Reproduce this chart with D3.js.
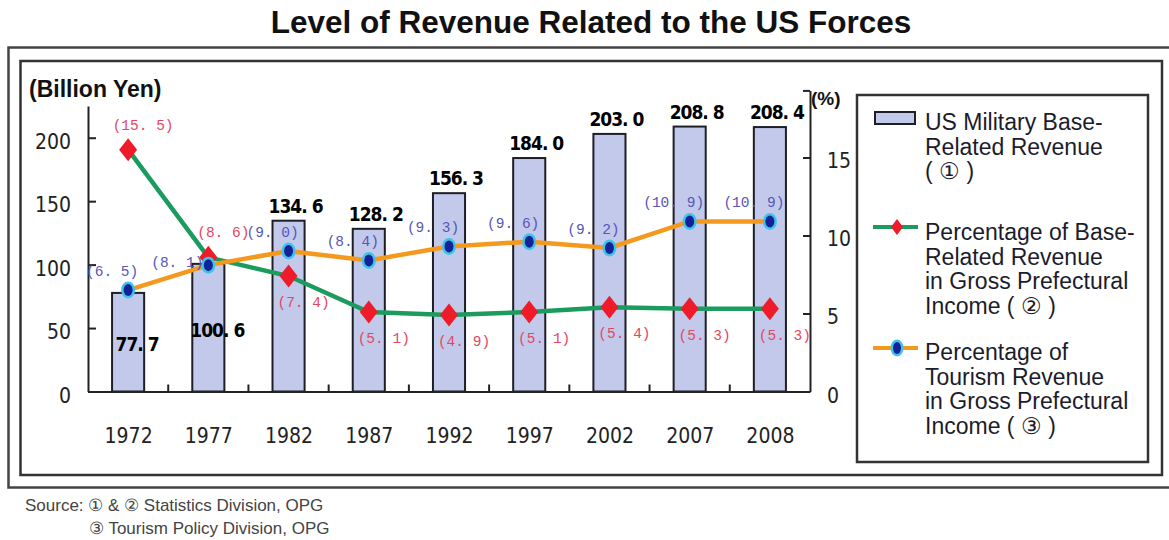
<!DOCTYPE html>
<html>
<head>
<meta charset="utf-8">
<script src="https://cdn.jsdelivr.net/npm/d3@7"></script>
<style>
  html, body { margin: 0; padding: 0; background: #fff; }
  svg { display: block; }
  .tick text { font-family: 'Liberation Sans Narrow', 'DejaVu Sans Condensed', sans-serif; font-size: 21px; fill: #222; }
  .axis path, .axis line { stroke: #222; stroke-width: 2; }
</style>
</head>
<body>
<svg id="chart" width="1169" height="540"></svg>
<script>
// chart values
var years = ['1972', '1977', '1982', '1987', '1992', '1997', '2002', '2007', '2008'];
var baseRevenue = [77.7, 100.6, 134.6, 128.2, 156.3, 184.0, 203.0, 208.8, 208.4];   // billion yen (1)
var basePct = [15.5, 8.6, 7.4, 5.1, 4.9, 5.1, 5.4, 5.3, 5.3];                        // % (2)
var tourismPct = [6.5, 8.1, 9.0, 8.4, 9.3, 9.6, 9.2, 10.9, 10.9];                    // % (3)
var leftTicks = [0, 50, 100, 150, 200];
var rightTicks = [0, 5, 10, 15];
var legendLabels = [
  ['US Military Base-', 'Related Revenue', '( \u2460 )'],
  ['Percentage of Base-', 'Related Revenue', 'in Gross Prefectural', 'Income  ( \u2461 )'],
  ['Percentage of', 'Tourism Revenue', 'in Gross Prefectural', 'Income  ( \u2462 )']
];

var svg = d3.select('#chart');

var plot = { left: 88, right: 810, bottom: 391.5 };

var x = d3.scalePoint().domain(years).range([plot.left, plot.right]).padding(0.5);
var step = x.step();
var barW = step * 0.4;

var yL = d3.scaleLinear().domain([0, 225]).range([plot.bottom, 106]);
var yR = d3.scaleLinear().domain([0, 19.3]).range([plot.bottom, 90.4]);

var sep = function(v) { return d3.format('.1f')(v).replace('.', '. '); };
var sansFont = "'Liberation Sans', Arial, sans-serif";

// title and frames
svg.append('text')
  .attr('x', 591).attr('y', 33)
  .attr('text-anchor', 'middle')
  .style('font-family', sansFont)
  .style('font-weight', 'bold').style('font-size', '31.5px').style('fill', '#111')
  .text('Level of Revenue Related to the US Forces');

svg.append('path')
  .attr('d', 'M1169,47.5H8.5V487.5H1169')
  .attr('fill', 'none').attr('stroke', '#444').attr('stroke-width', 2.5);
svg.append('rect')
  .attr('x', 20.5).attr('y', 61).attr('width', 1141.5).attr('height', 414)
  .attr('fill', 'none').attr('stroke', '#333').attr('stroke-width', 2.5);

// units
svg.append('text')
  .attr('x', 29).attr('y', 97)
  .style('font-family', sansFont)
  .style('font-weight', 'bold').style('font-size', '23px').style('fill', '#111')
  .text('(Billion Yen)');
svg.append('text')
  .attr('x', 811).attr('y', 105)
  .style('font-family', sansFont)
  .style('font-weight', 'bold').style('font-size', '19px').style('fill', '#111')
  .text('(%)');

// bars
svg.append('g').selectAll('rect')
  .data(baseRevenue)
  .join('rect')
  .attr('x', function(d, i) { return x(years[i]) - barW / 2; })
  .attr('y', function(d) { return yL(d); })
  .attr('width', barW)
  .attr('height', function(d) { return yL(0) - yL(d); })
  .attr('fill', '#c3c9ea')
  .attr('stroke', '#1e1e28')
  .attr('stroke-width', 2);

// axes
var axL = svg.append('g')
  .attr('class', 'axis')
  .attr('transform', 'translate(' + plot.left + ',0)')
  .call(d3.axisLeft(yL).tickValues(leftTicks).tickSizeInner(-8).tickSizeOuter(0).tickPadding(17));
axL.selectAll('.tick text').attr('dy', '0.5em');

var axR = svg.append('g')
  .attr('class', 'axis')
  .attr('transform', 'translate(' + plot.right + ',0)')
  .call(d3.axisRight(yR).tickValues(rightTicks.concat([yR.domain()[1]]))
    .tickFormat(function(d) { return rightTicks.indexOf(d) >= 0 ? d : ''; })
    .tickSizeInner(-7).tickSizeOuter(0).tickPadding(17));
axR.selectAll('.tick text').attr('dy', '0.5em');

var axX = svg.append('g')
  .attr('class', 'axis')
  .attr('transform', 'translate(0,' + plot.bottom + ')')
  .call(d3.axisBottom(x).tickSize(0).tickPadding(37));

axX.append('g').selectAll('line')
  .data(years.slice(1))
  .join('line')
  .attr('x1', function(d) { return x(d) - step / 2; })
  .attr('x2', function(d) { return x(d) - step / 2; })
  .attr('y1', 0).attr('y2', -7);

// bar value labels: the two short bars carry theirs inside
svg.append('g').selectAll('text')
  .data(baseRevenue)
  .join('text')
  .attr('x', function(d, i) { return x(years[i]) + (i < 2 ? 9 : 7); })
  .attr('y', function(d, i) { return i < 2 ? (yL(d) + yL(0)) / 2 + 9 : yL(d) - 8; })
  .attr('text-anchor', 'middle')
  .style('font-family', "'Liberation Sans Narrow', 'DejaVu Sans Condensed', sans-serif")
  .style('font-weight', 'bold').style('font-size', '19px').style('letter-spacing', '-1px')
  .style('fill', '#000')
  .text(sep);

// line series
var lineBase = d3.line()
  .x(function(d, i) { return x(years[i]); })
  .y(function(d) { return yR(d); });

var diamondPath = function(w, h) {
  return 'M0,' + (-h) + 'L' + w + ',0L0,' + h + 'L' + (-w) + ',0Z';
};

svg.append('path')
  .datum(basePct)
  .attr('d', lineBase)
  .attr('fill', 'none').attr('stroke', '#1b9b5e').attr('stroke-width', 4.5);

svg.append('g').selectAll('path')
  .data(basePct)
  .join('path')
  .attr('d', diamondPath(9, 11.5))
  .attr('transform', function(d, i) { return 'translate(' + x(years[i]) + ',' + yR(d) + ')'; })
  .attr('fill', '#ee1b2a');

svg.append('path')
  .datum(tourismPct)
  .attr('d', lineBase)
  .attr('fill', 'none').attr('stroke', '#f39a1e').attr('stroke-width', 4.5);

var dots = svg.append('g').selectAll('g')
  .data(tourismPct)
  .join('g')
  .attr('transform', function(d, i) { return 'translate(' + x(years[i]) + ',' + yR(d) + ')'; });
dots.append('ellipse').attr('rx', 7).attr('ry', 8.5).attr('fill', '#3fc3e6');
dots.append('ellipse').attr('rx', 4.5).attr('ry', 6).attr('fill', '#14229a');

// point labels
var monoFont = "'Liberation Mono', 'DejaVu Sans Mono', monospace";
svg.append('g').selectAll('text')
  .data(basePct)
  .join('text')
  .attr('x', function(d, i) { return x(years[i]) + 15; })
  .attr('y', function(d, i) { return yR(d) + (i < 2 ? -20 : 31); })
  .attr('text-anchor', 'middle')
  .style('font-family', monoFont).style('font-size', '14.5px').style('fill', '#e3475f')
  .text(function(d) { return '(' + sep(d) + ')'; });

svg.append('g').selectAll('text')
  .data(tourismPct)
  .join('text')
  .attr('x', function(d, i) { return x(years[i]) + (i === 1 ? -31 : -16); })
  .attr('y', function(d, i) { return yR(d) + (i === 1 ? 2 : -14); })
  .attr('text-anchor', 'middle')
  .style('font-family', monoFont).style('font-size', '14.5px').style('fill', '#5656b8')
  .text(function(d) { return '(' + sep(d) + ')'; });

// legend
var lg = svg.append('g');
lg.append('rect')
  .attr('x', 857).attr('y', 95).attr('width', 291).attr('height', 367)
  .attr('fill', '#fff').attr('stroke', '#333').attr('stroke-width', 2.5);

lg.append('rect')
  .attr('x', 875).attr('y', 112).attr('width', 40).attr('height', 12)
  .attr('fill', '#c3c9ea').attr('stroke', '#1e1e28').attr('stroke-width', 2);

lg.append('line').attr('x1', 873).attr('x2', 918).attr('y1', 227).attr('y2', 227)
  .attr('stroke', '#1b9b5e').attr('stroke-width', 4);
lg.append('path').attr('d', diamondPath(6, 8))
  .attr('transform', 'translate(897,227)').attr('fill', '#ee1b2a');

lg.append('line').attr('x1', 873).attr('x2', 918).attr('y1', 348).attr('y2', 348)
  .attr('stroke', '#f39a1e').attr('stroke-width', 4);
lg.append('ellipse').attr('cx', 897).attr('cy', 348).attr('rx', 6.5).attr('ry', 8.5).attr('fill', '#3fc3e6');
lg.append('ellipse').attr('cx', 897).attr('cy', 348).attr('rx', 4).attr('ry', 6).attr('fill', '#14229a');

var legendTop = [122, 232, 352];
legendLabels.forEach(function(lines, k) {
  lg.append('text')
    .attr('x', 925).attr('y', legendTop[k] + 8)
    .style('font-family', sansFont)
    .style('font-size', '23px').style('fill', '#1c1c2c')
    .selectAll('tspan')
    .data(lines)
    .join('tspan')
    .attr('x', 925)
    .attr('dy', function(d, i) { return i === 0 ? 0 : 24.7; })
    .text(function(d) { return d; });
});

// source note
var note = svg.append('text')
  .style('font-family', sansFont)
  .style('font-size', '17px').style('fill', '#444');
note.append('tspan').attr('x', 25).attr('y', 511).text('Source: \u2460 & \u2461 Statistics Division, OPG');
note.append('tspan').attr('x', 89).attr('y', 534).text('\u2462 Tourism Policy Division, OPG');
</script>
</body>
</html>
